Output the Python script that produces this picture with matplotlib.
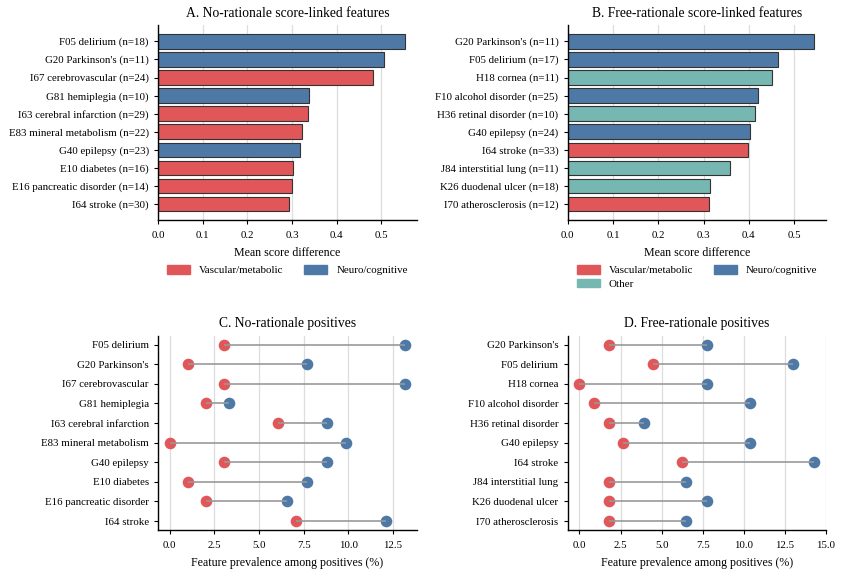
import matplotlib

matplotlib.use("Agg")
import matplotlib.pyplot as plt  # noqa: E402
from matplotlib.patches import Patch  # noqa: E402

plt.rcParams["font.family"] = ["Liberation Serif", "DejaVu Serif"]
plt.rcParams["font.size"] = 8.6
plt.rcParams["xtick.labelsize"] = 7.8
plt.rcParams["ytick.labelsize"] = 7.8

RED = "#E15759"
BLUE = "#4E79A7"
TEAL = "#76B7B2"
CAT_COLORS = {"vasc": RED, "neuro": BLUE, "other": TEAL}

# --- A: no-rationale score-linked features ---
a_labels = ["F05 delirium (n=18)", "G20 Parkinson's (n=11)", "I67 cerebrovascular (n=24)",
            "G81 hemiplegia (n=10)", "I63 cerebral infarction (n=29)",
            "E83 mineral metabolism (n=22)", "G40 epilepsy (n=23)", "E10 diabetes (n=16)",
            "E16 pancreatic disorder (n=14)", "I64 stroke (n=30)"]
a_values = [0.552, 0.506, 0.481, 0.337, 0.335, 0.323, 0.317, 0.303, 0.301, 0.294]
a_cats = ["neuro", "neuro", "vasc", "neuro", "vasc", "vasc", "neuro", "vasc", "vasc", "vasc"]

# --- B: free-rationale score-linked features ---
b_labels = ["G20 Parkinson's (n=11)", "F05 delirium (n=17)", "H18 cornea (n=11)",
            "F10 alcohol disorder (n=25)", "H36 retinal disorder (n=10)",
            "G40 epilepsy (n=24)", "I64 stroke (n=33)", "J84 interstitial lung (n=11)",
            "K26 duodenal ulcer (n=18)", "I70 atherosclerosis (n=12)"]
b_values = [0.543, 0.465, 0.450, 0.421, 0.413, 0.403, 0.399, 0.358, 0.315, 0.312]
b_cats = ["neuro", "neuro", "other", "neuro", "other", "neuro", "vasc", "other", "other", "vasc"]

# --- C: no-rationale positives (red = low group, blue = high group) ---
c_labels = ["F05 delirium", "G20 Parkinson's", "I67 cerebrovascular", "G81 hemiplegia",
            "I63 cerebral infarction", "E83 mineral metabolism", "G40 epilepsy",
            "E10 diabetes", "E16 pancreatic disorder", "I64 stroke"]
c_low = [3.03, 1.01, 3.03, 2.02, 6.06, 0.0, 3.03, 1.01, 2.02, 7.07]
c_high = [13.19, 7.69, 13.19, 3.30, 8.79, 9.89, 8.79, 7.69, 6.59, 12.09]

# --- D: free-rationale positives ---
d_labels = ["G20 Parkinson's", "F05 delirium", "H18 cornea", "F10 alcohol disorder",
            "H36 retinal disorder", "G40 epilepsy", "I64 stroke", "J84 interstitial lung",
            "K26 duodenal ulcer", "I70 atherosclerosis"]
d_low = [1.79, 4.46, 0.0, 0.89, 1.79, 2.68, 6.25, 1.79, 1.79, 1.79]
d_high = [7.79, 12.99, 7.79, 10.39, 3.90, 10.39, 14.29, 6.49, 7.79, 6.49]


def style_ax(ax):
    for side in ("top", "right"):
        ax.spines[side].set_visible(False)
    ax.spines["left"].set_linewidth(1.0)
    ax.spines["bottom"].set_linewidth(1.0)
    ax.grid(axis="x", color="#dddddd", linewidth=0.9)
    ax.set_axisbelow(True)
    ax.tick_params(length=3.2, width=0.8)
    ax.tick_params(axis="x", pad=4.5)
    ax.xaxis.labelpad = 5


def bar_panel(ax, labels, values, cats, title):
    y = range(len(labels))
    ax.barh(list(y), values, height=0.8, color=[CAT_COLORS[c] for c in cats],
            edgecolor="#333333", linewidth=0.8)
    ax.set_yticks(list(y))
    ax.set_yticklabels(labels)
    ax.invert_yaxis()
    ax.set_xlabel("Mean score difference")
    ax.set_title(title, fontsize=9.8)
    style_ax(ax)


def dumbbell_panel(ax, labels, low, high, title):
    y = list(range(len(labels)))
    ax.hlines(y, low, high, color="#999999", linewidth=1.2, zorder=3)
    ax.scatter(low, y, s=70, color=RED, zorder=2, linewidths=0)
    ax.scatter(high, y, s=70, color=BLUE, zorder=2, linewidths=0)
    ax.set_yticks(y)
    ax.set_yticklabels(labels)
    ax.invert_yaxis()
    ax.set_xlabel("Feature prevalence among positives (%)")
    ax.set_title(title, fontsize=9.8)
    style_ax(ax)


fig = plt.figure(figsize=(8.42, 5.76), dpi=100)
ax_a = fig.add_axes([0.1876, 0.618, 0.3076, 0.338])
ax_b = fig.add_axes([0.6742, 0.618, 0.3068, 0.338])
ax_c = fig.add_axes([0.1876, 0.080, 0.3076, 0.337])
ax_d = fig.add_axes([0.6742, 0.080, 0.3068, 0.337])

bar_panel(ax_a, a_labels, a_values, a_cats, "A. No-rationale score-linked features")
bar_panel(ax_b, b_labels, b_values, b_cats, "B. Free-rationale score-linked features")
dumbbell_panel(ax_c, c_labels, c_low, c_high, "C. No-rationale positives")
dumbbell_panel(ax_d, d_labels, d_low, d_high, "D. Free-rationale positives")
ax_d.set_xticks([0, 2.5, 5, 7.5, 10, 12.5, 15])

vasc = Patch(color=RED, label="Vascular/metabolic")
neuro = Patch(color=BLUE, label="Neuro/cognitive")
other = Patch(color=TEAL, label="Other")
# ncol=2 fills column by column, so order so rows read Vasc, Neuro / Other
for ax, handles in ((ax_a, [vasc, neuro]), (ax_b, [vasc, other, neuro])):
    ax.legend(handles=handles, ncol=2, frameon=False, loc="upper center",
              bbox_to_anchor=(0.5, -0.21), fontsize=7.9, handlelength=2.1,
              handleheight=0.8, columnspacing=1.9, borderaxespad=0,
              handletextpad=0.8, labelspacing=0.3)

fig.savefig("out.png", dpi=100)
